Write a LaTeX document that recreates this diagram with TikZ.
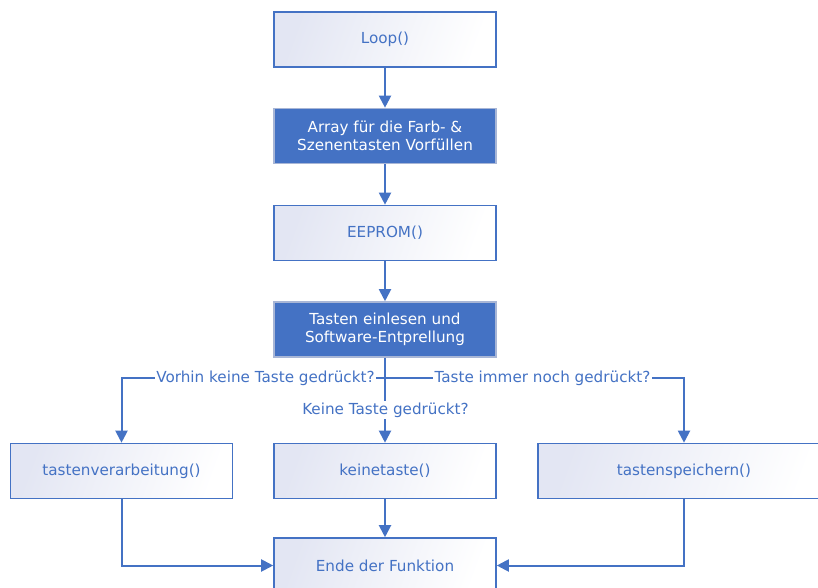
\documentclass[tikz,border=0pt]{standalone}
\usepackage{fontspec}
\setmainfont{DejaVu Sans}
\usetikzlibrary{arrows.meta}
\definecolor{flowblue}{HTML}{4472C4}
\definecolor{flowtint}{HTML}{E3E6F3}
\definecolor{flowedge}{HTML}{A8B6D6}

\begin{document}
\begin{tikzpicture}[x=1pt,y=1pt,
  font=\fontsize{15.2}{18.3}\selectfont,
  plainbox/.style={draw=flowblue, line width=1.6pt, left color=flowtint,
    right color=white, shading angle=70, text=flowblue,
    minimum width=222pt, minimum height=55pt, align=center, inner sep=0pt},
  solidbox/.style={draw=flowedge, line width=1.6pt, fill=flowblue, text=white,
    minimum width=222pt, minimum height=55pt, align=center, inner sep=0pt},
  flow/.style={draw=flowblue, line width=2pt,
    -{Triangle[width=12pt,length=12pt]}},
  cond/.style={fill=white, text=flowblue, inner sep=1.5pt}
]
\useasboundingbox (0,0) rectangle (818,587);
\clip (0,0) rectangle (818,587);

% main column
\node[plainbox] (loop)   at (385,547.5) {Loop()};
\node[solidbox] (array)  at (385,451)   {Array für die Farb- \&\\Szenentasten Vorfüllen};
\node[plainbox] (eeprom) at (385,354)   {EEPROM()};
\node[solidbox] (tasten) at (385,257.5) {Tasten einlesen und\\Software-Entprellung};

% branch targets
\node[plainbox] (verarb)  at (121.5,116) {tastenverarbeitung()};
\node[plainbox] (keine)   at (385,116)   {keinetaste()};
\node[plainbox, minimum width=292pt] (speich) at (684,116) {tastenspeichern()};

% common end
\node[plainbox] (ende) at (385,21.5) {Ende der Funktion};

\coordinate (split) at (385,209);

% connectors
\draw[flow] (loop) -- (array);
\draw[flow] (array) -- (eeprom);
\draw[flow] (eeprom) -- (tasten);
\draw[flow] (tasten) -- (keine);
\draw[flow] (split) -| (verarb.north);
\draw[flow] (split) -| (speich.north);
\draw[flow] (keine) -- (ende);
\draw[flow] (verarb.south) |- (ende.west);
\draw[flow] (speich.south) |- (ende.east);

% branch conditions
\node[cond] (c1) at (265.5,209) {Vorhin keine Taste gedrückt?};
\node[cond] (c2) at (542.5,209) {Taste immer noch gedrückt?};
\node[cond] (c3) at (385.5,177) {Keine Taste gedrückt?};
\end{tikzpicture}
\end{document}
